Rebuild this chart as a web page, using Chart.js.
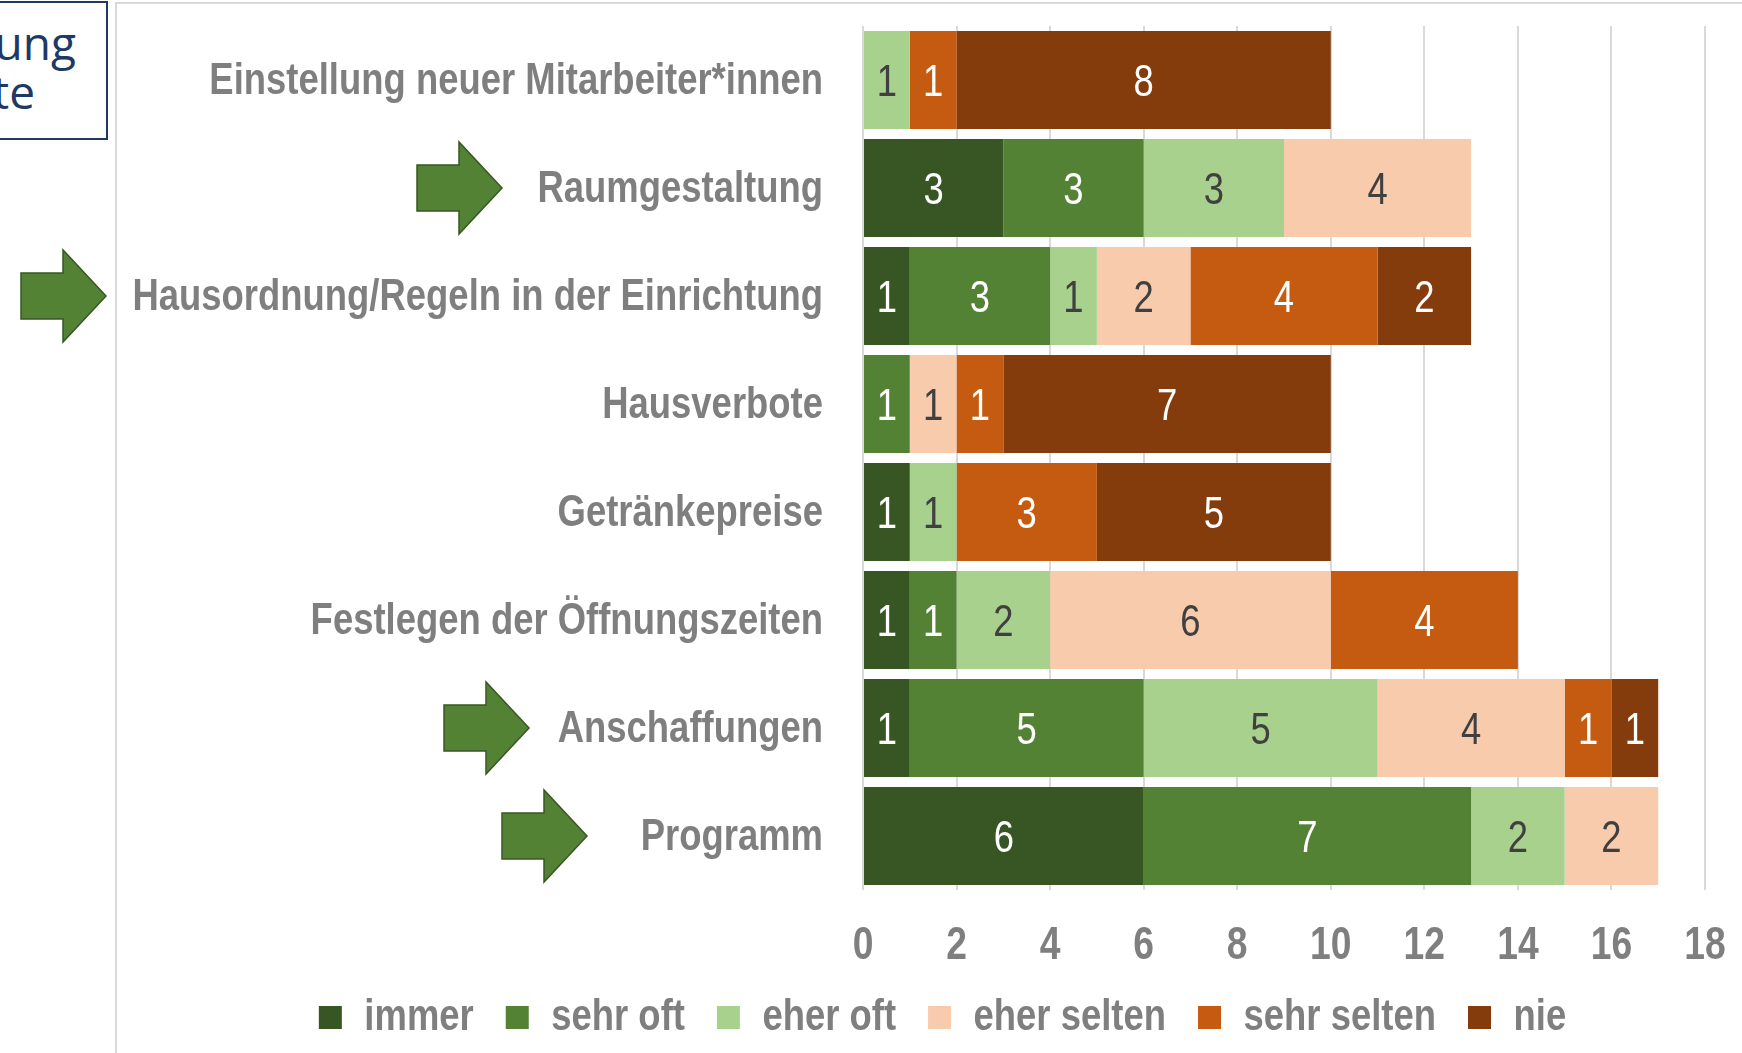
<!doctype html>
<html lang="de">

<head>
    <meta charset="utf-8">
    <title>Mitbestimmung</title>
    <style>
        * {
            margin: 0;
            padding: 0;
        }

        body {
            width: 1742px;
            height: 1053px;
            overflow: hidden;
            background: white;
            position: relative;
        }

        .frame {
            position: absolute;
            left: 115px;
            top: 2px;
            width: 1700px;
            height: 1100px;
            border-left: 2px solid #d9d9d9;
            border-top: 2px solid #d9d9d9;
        }

        .titleBox {
            position: absolute;
            left: -10px;
            top: 1px;
            width: 114px;
            height: 135px;
            border: 2px solid #203864;
        }

        .titleBox div {
            position: absolute;
            left: 0;
            width: 84px;
            text-align: right;
            font-family: 'Open Sans', sans-serif;
            font-size: 46px;
            color: #203864;
            line-height: 48px;
        }

        canvas {
            position: absolute;
            left: 0;
            top: 0;
        }
    </style>
</head>

<body>
    <div class="frame"></div>
    <div class="titleBox">
        <div style="top: 15px;">ung</div>
        <div style="top: 64px; width: 43px;">te</div>
    </div>
    <canvas id="myChart" width="1742" height="1053"></canvas>

    <script src="https://cdn.jsdelivr.net/npm/chart.js"></script>

    <script>
        const categories = [
            'Einstellung neuer Mitarbeiter*innen',
            'Raumgestaltung',
            'Hausordnung/Regeln in der Einrichtung',
            'Hausverbote',
            'Getränkepreise',
            'Festlegen der Öffnungszeiten',
            'Anschaffungen',
            'Programm'
        ]

        const seriesNames = ['immer', 'sehr oft', 'eher oft', 'eher selten', 'sehr selten', 'nie']

        const immer = [0, 3, 1, 0, 1, 1, 1, 6]
        const sehrOft = [0, 3, 3, 1, 0, 1, 5, 7]
        const eherOft = [1, 3, 1, 0, 1, 2, 5, 2]
        const eherSelten = [0, 4, 2, 1, 0, 6, 4, 2]
        const sehrSelten = [1, 0, 4, 1, 3, 4, 1, 0]
        const nie = [8, 0, 2, 7, 5, 0, 1, 0]

        const xTicks = [0, 2, 4, 6, 8, 10, 12, 14, 16, 18]

        const colors = ['#375623', '#548235', '#a9d18e', '#f8cbad', '#c55a11', '#843c0c']
        const labelColors = ['#ffffff', '#ffffff', '#404040', '#404040', '#ffffff', '#ffffff']

        // arrows in front of some of the categories (category index, tip x)
        const arrowRows = [1, 2, 6, 7]
        const arrowTips = [502, 106, 529, 587]

        const fontFamily = "'Liberation Sans', Arial, sans-serif"
        const grey = '#7f7f7f'

        // no Arial Narrow here: squeeze all canvas text horizontally instead
        const canvas = document.getElementById('myChart')
        const ctx = canvas.getContext('2d')
        const squeeze = 0.81
        const rawFillText = ctx.fillText.bind(ctx)
        const rawMeasureText = ctx.measureText.bind(ctx)
        ctx.fillText = (text, x, y) => {
            ctx.save()
            ctx.translate(x, y)
            ctx.scale(squeeze, 1)
            rawFillText(text, 0, 0)
            ctx.restore()
        }
        ctx.measureText = (text) => {
            const m = rawMeasureText(text)
            return {
                width: m.width * squeeze,
                actualBoundingBoxAscent: m.actualBoundingBoxAscent,
                actualBoundingBoxDescent: m.actualBoundingBoxDescent,
                actualBoundingBoxLeft: m.actualBoundingBoxLeft * squeeze,
                actualBoundingBoxRight: m.actualBoundingBoxRight * squeeze
            }
        }

        const values = [immer, sehrOft, eherOft, eherSelten, sehrSelten, nie]

        const dataSets = seriesNames.map((name, index) => {
            return {
                label: name,
                data: values[index],
                backgroundColor: colors[index],
                borderWidth: 0,
                categoryPercentage: 1,
                barPercentage: 0.906
            }
        })

        // numbers inside the bar segments
        const segmentLabels = {
            id: 'segmentLabels',
            afterDatasetsDraw(chart) {
                const c = chart.ctx
                c.save()
                c.font = '45px ' + fontFamily
                c.textAlign = 'center'
                c.textBaseline = 'middle'
                chart.data.datasets.forEach((ds, i) => {
                    const meta = chart.getDatasetMeta(i)
                    meta.data.forEach((bar, j) => {
                        const v = ds.data[j]
                        if (!v) return
                        c.fillStyle = labelColors[i]
                        c.fillText(String(v), (bar.x + bar.base) / 2, bar.y + 4)
                    })
                })
                c.restore()
            }
        }

        // green block arrows
        const arrows = {
            id: 'arrows',
            afterDraw(chart) {
                const c = chart.ctx
                const y = chart.scales.y
                c.save()
                c.fillStyle = '#548235'
                c.strokeStyle = '#385723'
                c.lineWidth = 1.5
                arrowRows.forEach((row, k) => {
                    const cy = y.getPixelForValue(row)
                    const tip = arrowTips[k]
                    c.beginPath()
                    c.moveTo(tip - 85, cy - 23)
                    c.lineTo(tip - 43, cy - 23)
                    c.lineTo(tip - 43, cy - 46)
                    c.lineTo(tip, cy)
                    c.lineTo(tip - 43, cy + 46)
                    c.lineTo(tip - 43, cy + 23)
                    c.lineTo(tip - 85, cy + 23)
                    c.closePath()
                    c.fill()
                    c.stroke()
                })
                c.restore()
            }
        }

        // legend sits centred under the whole chart frame, not the canvas
        const legendShift = {
            id: 'legendShift',
            afterLayout(chart) {
                chart.legend.left += 90
                chart.legend.right += 90
            }
        }

        const config = {
            type: 'bar',
            data: {
                labels: categories,
                datasets: dataSets
            },
            options: {
                indexAxis: 'y',
                responsive: false,
                animation: false,
                layout: {
                    padding: { top: 26, right: 37, left: 0, bottom: 3 }
                },
                plugins: {
                    legend: {
                        position: 'bottom',
                        labels: {
                            boxWidth: 23,
                            boxHeight: 23,
                            padding: 32,
                            color: grey,
                            font: { family: fontFamily, size: 45, weight: 'bold' }
                        }
                    },
                    tooltip: { enabled: false }
                },
                scales: {
                    x: {
                        stacked: true,
                        min: 0,
                        max: 18,
                        afterBuildTicks: (scale) => {
                            scale.ticks = xTicks.map(v => ({ value: v }))
                        },
                        afterFit: (scale) => {
                            scale.height = 73
                            scale.paddingLeft = 0
                            scale.paddingRight = 0
                        },
                        grid: {
                            color: '#d9d9d9',
                            lineWidth: 2,
                            drawTicks: false
                        },
                        border: { display: false },
                        ticks: {
                            padding: 29,
                            color: grey,
                            font: { family: fontFamily, size: 46, weight: 'bold' }
                        }
                    },
                    y: {
                        stacked: true,
                        afterFit: (scale) => {
                            scale.width = 863
                            scale.paddingTop = 0
                            scale.paddingBottom = 0
                        },
                        grid: { display: false },
                        border: { display: false },
                        ticks: {
                            padding: 32,
                            labelOffset: 2,
                            color: grey,
                            font: { family: fontFamily, size: 45, weight: 'bold' }
                        }
                    }
                }
            },
            plugins: [segmentLabels, arrows, legendShift]
        };

        const myChart = new Chart(canvas, config);
    </script>
</body>

</html>
